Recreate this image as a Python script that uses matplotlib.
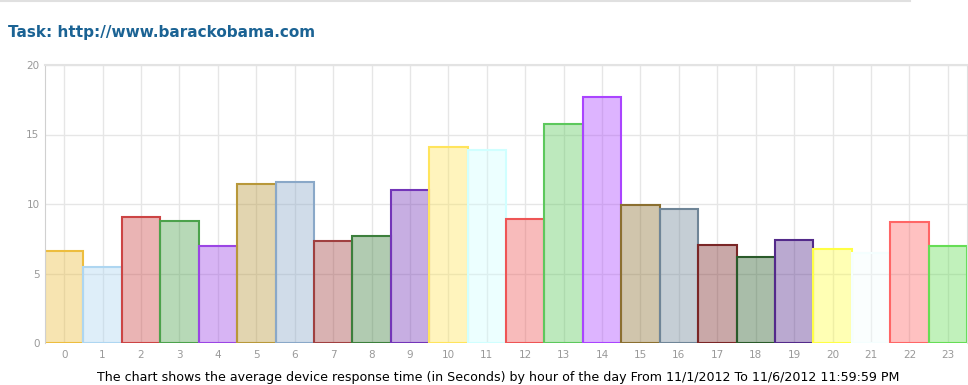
import matplotlib
matplotlib.use("Agg")
import matplotlib.pyplot as plt
from matplotlib.colors import to_rgba
from matplotlib.lines import Line2D

# hour of day and average response time (seconds)
hours = list(range(24))
response = [6.6, 5.47, 9.06, 8.78, 6.98, 11.44, 11.58, 7.34, 7.7, 11.0, 14.1, 13.9,
            8.92, 15.75, 17.7, 9.93, 9.64, 7.05, 6.19, 7.41, 6.76, 6.47, 8.7, 6.98]
colors = ['#EDBD3E', '#AED6F1', '#CC4444', '#4CA24C', '#9B45E4', '#B8983A',
          '#8AA8C8', '#A04040', '#3C7F3C', '#7335B8', '#FFE45C', '#D0FFFF',
          '#EE5555', '#5CC85C', '#AA44FF', '#8B6F30', '#6F8597', '#7A2626',
          '#2A5A2A', '#532A8A', '#FFFF44', '#F4FEFE', '#FF6666', '#66DD55']
yticks = [0, 5, 10, 15, 20]

title = "Task: http://www.barackobama.com"
caption = ("The chart shows the average device response time (in Seconds) by hour "
           "of the day From 11/1/2012 To 11/6/2012 11:59:59 PM")


def main():
    fig = plt.figure(figsize=(9.68, 3.85), dpi=100)
    ax = fig.add_axes([45 / 968, 1 - 343 / 385, 922 / 968, 278 / 385])

    faces = [to_rgba(c, 0.4) for c in colors]
    ax.bar(hours, response, width=1.0, color=faces, edgecolor=colors,
           linewidth=1.5, zorder=2)

    ax.set_xlim(-0.5, 23.5)
    ax.set_ylim(0, 20)
    ax.set_xticks(hours)
    ax.set_yticks(yticks)
    ax.tick_params(colors='#999999', labelsize=7.5, length=0, pad=4)
    ax.tick_params(axis='x', pad=5)

    # grid shows through the translucent bars
    ax.grid(True, color='#E6E6E6', linewidth=1, zorder=1)
    ax.set_axisbelow(True)
    ax.spines['bottom'].set_visible(False)
    ax.spines['left'].set_color('#D0D0D0')
    ax.spines['right'].set_color('#E0E0E0')
    ax.spines['top'].set_color('#E3E3E3')
    ax.spines['top'].set_linewidth(1.5)

    fig.text(8 / 968, 1 - 32 / 385, title, fontsize=11, fontweight='bold',
             color='#1B6394', va='center', ha='left')
    fig.text(498 / 968, 1 - 378 / 385, caption, fontsize=9.1, color='black',
             va='center', ha='center')
    fig.add_artist(Line2D([0, 0.94], [0.997, 0.997], color='#E0E0E0', lw=1.5,
                          transform=fig.transFigure))

    fig.savefig("out.png", dpi=100)


if __name__ == "__main__":
    main()
